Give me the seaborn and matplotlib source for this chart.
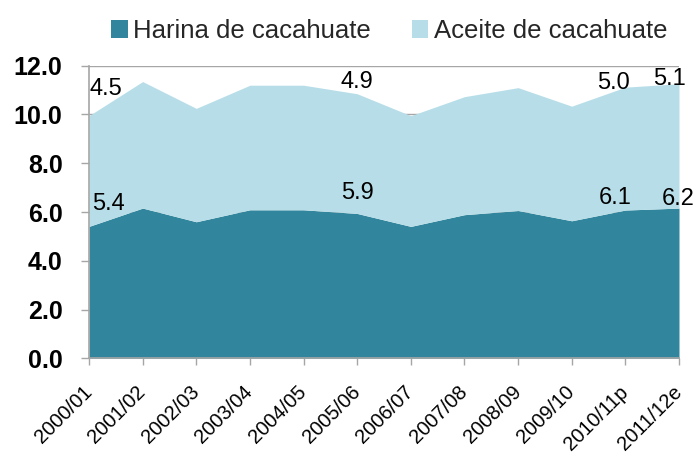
import numpy as np
import pandas as pd
import matplotlib
matplotlib.use("Agg")
import matplotlib.pyplot as plt
from matplotlib.patches import Patch
import seaborn as sns

# ---- data ----
years = ["2000/01", "2001/02", "2002/03", "2003/04", "2004/05", "2005/06",
         "2006/07", "2007/08", "2008/09", "2009/10", "2010/11p", "2011/12e"]
harina = [5.41, 6.16, 5.60, 6.09, 6.09, 5.94, 5.41, 5.89, 6.06, 5.64, 6.08, 6.16]
aceite = [4.54, 5.19, 4.65, 5.11, 5.11, 4.91, 4.54, 4.84, 5.04, 4.70, 5.04, 5.10]
series_names = ["Harina de cacahuate", "Aceite de cacahuate"]
labeled_idx = [0, 5, 10, 11]
y_ticks = [0, 2, 4, 6, 8, 10, 12]

df = pd.DataFrame({"year": years, series_names[0]: harina, series_names[1]: aceite})

# ---- style ----
sns.set_theme(style="white")
plt.rcParams["font.family"] = ["Liberation Sans", "DejaVu Sans"]
c_dark = "#31859C"
c_light = "#B7DEE8"
c_grey = "#A6A6A6"

fig = plt.figure(figsize=(6.96, 4.54), dpi=100)
ax = fig.add_axes([89 / 696, 1 - 358.3 / 454, (679 - 89) / 696, (358.3 - 65.7) / 454])

x = np.arange(len(df))
ax.stackplot(x, df[series_names[0]], df[series_names[1]],
             colors=[c_dark, c_light], linewidth=0, zorder=2)

ax.set_xlim(0, len(df) - 1)
ax.set_ylim(0, 12)
ax.set_yticks(y_ticks)
ax.set_yticklabels([f"{v:.1f}" for v in y_ticks], fontsize=18, fontweight="bold")
ax.set_xticks(x)
ax.set_xticklabels(df["year"], rotation=45, ha="right", va="center",
                   rotation_mode="anchor", fontsize=14.5)
ax.yaxis.grid(True, color=c_grey, linewidth=1, zorder=0)
ax.set_axisbelow(True)
sns.despine(ax=ax, top=True, right=True)
for s in ["left", "bottom"]:
    ax.spines[s].set_color(c_grey)
    ax.spines[s].set_linewidth(1.2)
ax.tick_params(axis="y", which="major", left=True, length=6, width=1,
               color=c_grey, pad=13, labelcolor="black")
ax.tick_params(axis="x", which="major", bottom=True, length=5, width=1,
               color=c_grey, pad=17, labelcolor="black")

# ---- data labels (offsets in pixels, styling only) ----
top_offsets = {0: (17, 27), 5: (0, 12), 10: (-12, 4), 11: (-10, 5)}
bot_offsets = {0: (19, 22), 5: (0, 20), 10: (-10, 12), 11: (-1, 9)}
for i in labeled_idx:
    total = df[series_names[0]].iloc[i] + df[series_names[1]].iloc[i]
    dx, dy = top_offsets[i]
    ax.annotate(f"{df[series_names[1]].iloc[i]:.1f}", (x[i], total),
                xytext=(dx, dy), textcoords="offset pixels",
                ha="center", va="center", fontsize=17, color="black",
                annotation_clip=False, zorder=5)
    dx, dy = bot_offsets[i]
    ax.annotate(f"{df[series_names[0]].iloc[i]:.1f}", (x[i], df[series_names[0]].iloc[i]),
                xytext=(dx, dy), textcoords="offset pixels",
                ha="center", va="center", fontsize=17, color="black",
                annotation_clip=False, zorder=5)

# ---- legend ----
handles = [Patch(facecolor=c_dark, edgecolor="none"),
           Patch(facecolor=c_light, edgecolor="none")]
fig.legend(handles, series_names, loc="center", bbox_to_anchor=(389 / 696, 1 - 31 / 454),
           ncol=2, frameon=False, fontsize=18.5, handlelength=0.65, handleheight=0.65,
           handletextpad=0.2, columnspacing=1.6, borderpad=0, borderaxespad=0)

fig.savefig("out.png", dpi=100)
